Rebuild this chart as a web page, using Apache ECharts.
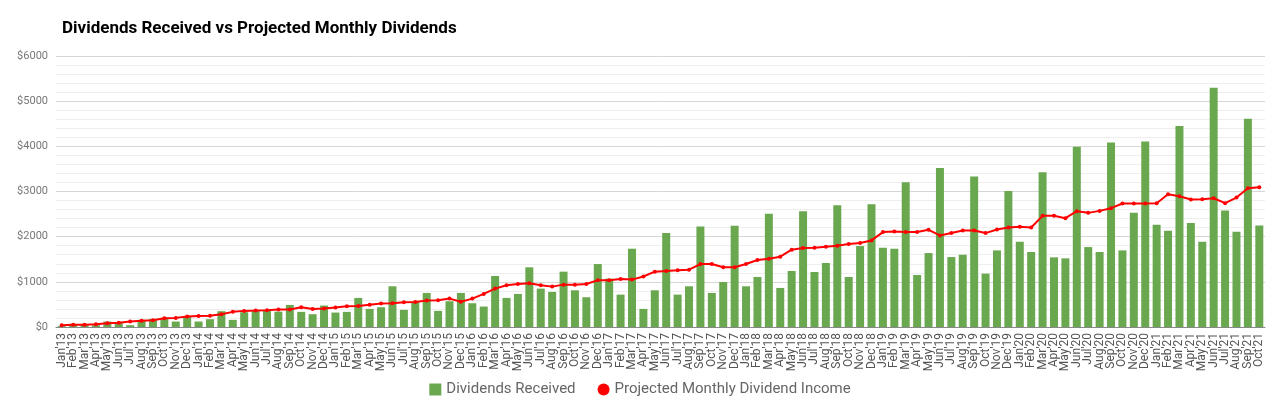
<!DOCTYPE html>
<html>
<head>
<meta charset="utf-8">
<script src="https://cdn.jsdelivr.net/npm/echarts@6/dist/echarts.min.js"></script>
<style>
html,body{margin:0;padding:0;background:#fff;}
#chart{width:1280px;height:413px;}
</style>
</head>
<body>
<div id="chart"></div>
<script>
const months = [
"Jan'13","Feb'13","Mar'13","Apr'13","May'13","Jun'13","Jul'13","Aug'13","Sep'13","Oct'13","Nov'13","Dec'13",
"Jan'14","Feb'14","Mar'14","Apr'14","May'14","Jun'14","Jul'14","Aug'14","Sep'14","Oct'14","Nov'14","Dec'14",
"Jan'15","Feb'15","Mar'15","Apr'15","May'15","Jun'15","Jul'15","Aug'15","Sep'15","Oct'15","Nov'15","Dec'15",
"Jan'16","Feb'16","Mar'16","Apr'16","May'16","Jun'16","Jul'16","Aug'16","Sep'16","Oct'16","Nov'16","Dec'16",
"Jan'17","Feb'17","Mar'17","Apr'17","May'17","Jun'17","Jul'17","Aug'17","Sep'17","Oct'17","Nov'17","Dec'17",
"Jan'18","Feb'18","Mar'18","Apr'18","May'18","Jun'18","Jul'18","Aug'18","Sep'18","Oct'18","Nov'18","Dec'18",
"Jan'19","Feb'19","Mar'19","Apr'19","May'19","Jun'19","Jul'19","Aug'19","Sep'19","Oct'19","Nov'19","Dec'19",
"Jan'20","Feb'20","Mar'20","Apr'20","May'20","Jun'20","Jul'20","Aug'20","Sep'20","Oct'20","Nov'20","Dec'20",
"Jan'21","Feb'21","Mar'21","Apr'21","May'21","Jun'21","Jul'21","Aug'21","Sep'21","Oct'21"
];

const dividendsReceived = [
20,70,50,40,121,92,40,158,180,202,121,232,
121,173,350,158,327,364,372,340,489,335,283,475,
320,335,644,401,438,901,379,556,754,357,570,754,
526,453,1130,644,732,1321,850,776,1225,813,659,1394,
1071,717,1733,401,813,2079,717,901,2226,754,997,2240,
901,1108,2506,865,1240,2564,1218,1417,2696,1108,1792,2719,
1755,1733,3205,1152,1637,3521,1549,1600,3330,1181,1696,3013,
1888,1660,3425,1542,1520,3992,1770,1660,4084,1696,2527,4106,
2263,2130,4448,2300,1888,5298,2580,2108,4611,2248
];

const projectedIncome = [
40,48,52,62,85,92,121,136,151,195,202,232,
246,250,283,335,357,364,372,390,386,438,401,408,
432,460,465,490,519,526,550,556,585,592,629,560,
629,732,850,923,953,968,923,894,938,938,953,1034,
1034,1063,1049,1118,1225,1240,1254,1269,1394,1394,1321,1321,
1394,1483,1512,1556,1711,1748,1755,1777,1799,1836,1858,1917,
2101,2116,2101,2101,2152,2027,2079,2138,2138,2079,2160,2204,
2219,2204,2461,2461,2410,2564,2527,2571,2631,2734,2734,2734,
2741,2940,2896,2822,2829,2851,2741,2866,3072,3094
];

const yTicks = [0,1000,2000,3000,4000,5000,6000];

const chart = echarts.init(document.getElementById('chart'), null, {renderer:'canvas'});
chart.setOption({
  animation:false,
  backgroundColor:'#ffffff',
  textStyle:{fontFamily:'Roboto, "Noto Sans", sans-serif'},
  title:{
    text:'Dividends Received vs Projected Monthly Dividends',
    left:57, top:15,
    textStyle:{fontSize:17, fontWeight:'bold', color:'#000', fontFamily:'Roboto, sans-serif'}
  },
  legend:{
    bottom:11, left:'center',
    itemGap:22, itemWidth:12, itemHeight:12,
    textStyle:{fontSize:15, color:'#666', fontFamily:'Roboto, sans-serif'},
    data:[
      {name:'Dividends Received', icon:'rect'},
      {name:'Projected Monthly Dividend Income', icon:'circle'}
    ]
  },
  grid:{left:56, right:15, top:56, bottom:86, containLabel:false},
  xAxis:{
    type:'category',
    data:months,
    axisTick:{show:false},
    axisLine:{lineStyle:{color:'#888', width:1}},
    axisLabel:{rotate:90, interval:0, fontSize:12, color:'#555', margin:6, fontFamily:'Roboto, sans-serif'}
  },
  yAxis:{
    type:'value',
    min:yTicks[0], max:yTicks[yTicks.length-1], interval:1000,
    axisLine:{show:false}, axisTick:{show:false},
    axisLabel:{formatter:function(v){return '$'+v;}, fontSize:11, color:'#777', margin:8},
    splitLine:{lineStyle:{color:'#d6d6d6', width:1}},
    minorTick:{show:false, splitNumber:5},
    minorSplitLine:{show:true, lineStyle:{color:'#eeeeee', width:1}}
  },
  series:[
    {
      name:'Dividends Received',
      type:'bar',
      data:dividendsReceived,
      barCategoryGap:'30%',
      itemStyle:{color:'#6aa84f'}
    },
    {
      name:'Projected Monthly Dividend Income',
      type:'line',
      data:projectedIncome,
      symbol:'circle', symbolSize:4,
      lineStyle:{color:'#ff0000', width:2},
      itemStyle:{color:'#ff0000'}
    }
  ]
});
</script>
</body>
</html>
